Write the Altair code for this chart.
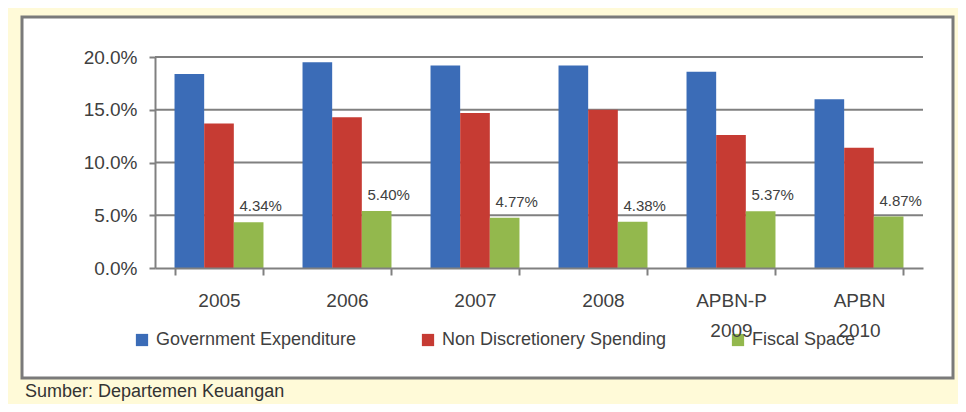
import altair as alt
import pandas as pd

categories = ["2005", "2006", "2007", "2008", "APBN-P 2009", "APBN 2010"]
series = ["Government Expenditure", "Non Discretionery Spending", "Fiscal Space"]
gov_exp = [18.4, 19.5, 19.2, 19.2, 18.6, 16.0]
non_disc = [13.7, 14.3, 14.7, 15.0, 12.6, 11.4]
fiscal = [4.34, 5.40, 4.77, 4.38, 5.37, 4.87]
y_ticks = [0, 5, 10, 15, 20]
grid_vals = [5, 10, 15, 20]
colors = ["#3B6CB7", "#C63B33", "#93B84D"]
source_note = "Sumber: Departemen Keuangan"

rows = []
for s, vals in zip(series, [gov_exp, non_disc, fiscal]):
    for c, v in zip(categories, vals):
        rows.append({"cat": c, "series": s, "val": v})
df = pd.DataFrame(rows)

W, H = 768, 211
FONT = "Liberation Sans"

xenc = alt.X(
    "cat:N",
    sort=categories,
    scale=alt.Scale(paddingInner=0.305, paddingOuter=0.1525),
    axis=alt.Axis(
        title=None, labelAngle=0, tickBand="extent", tickSize=7, tickWidth=2,
        tickColor="#808080", domainColor="#808080", domainWidth=2,
        labelFontSize=19, labelFont=FONT, labelColor="#404040", labelPadding=16,
        labelLineHeight=30, labelBaseline="top",
        labelExpr="split(datum.label, ' ')", zindex=1,
    ),
)
yscale = alt.Scale(domain=[0, 20], nice=False)
yaxis = alt.Axis(
    title=None, values=y_ticks, grid=False,
    labelExpr="format(datum.value, '.1f') + '%'",
    domainColor="#808080", domainWidth=2, tickColor="#808080", tickWidth=2,
    tickSize=6, labelPadding=12, labelFontSize=19, labelFont=FONT,
    labelColor="#404040", zindex=1,
)

panel = alt.Chart(pd.DataFrame({"a": [0]})).mark_rect(
    fill="white", stroke="#7a7a7a", strokeWidth=3
).encode(
    x=alt.value(-133), x2=alt.value(798), y=alt.value(-40), y2=alt.value(321)
)

grid = alt.Chart(pd.DataFrame({"val": grid_vals})).mark_rule(
    color="#808080", strokeWidth=2
).encode(y=alt.Y("val:Q", scale=yscale, axis=yaxis))

bars = alt.Chart(df).mark_bar().encode(
    x=xenc,
    xOffset=alt.XOffset("series:N", sort=series, scale=alt.Scale(paddingInner=0, paddingOuter=0)),
    y=alt.Y("val:Q", scale=yscale, axis=yaxis),
    color=alt.Color(
        "series:N",
        scale=alt.Scale(domain=series, range=colors),
        legend=alt.Legend(
            title=None, orient="none", direction="horizontal",
            legendX=-22, legendY=274, symbolType="square", symbolSize=150,
            symbolStrokeWidth=0, labelFontSize=18, labelFont=FONT,
            labelColor="#404040", columnPadding=62, labelOffset=5,
            labelLimit=400,
        ),
    ),
)

labels = alt.Chart(df).transform_filter(
    alt.datum.series == "Fiscal Space"
).transform_calculate(
    lbl="format(datum.val, '.2f') + '%'"
).mark_text(
    fontSize=15, font=FONT, color="#404040", dx=12, dy=-11, baseline="alphabetic"
).encode(
    x=alt.X("cat:N", sort=categories),
    xOffset=alt.XOffset("series:N", sort=series),
    y=alt.Y("val:Q", scale=yscale),
    text="lbl:N",
)

note = alt.Chart(pd.DataFrame({"t": [source_note]})).mark_text(
    align="left", baseline="alphabetic", fontSize=18, font=FONT, color="#333333"
).encode(x=alt.value(-130), y=alt.value(340), text="t:N")

chart = alt.layer(panel, grid, bars, labels, note).properties(
    width=W, height=H,
    autosize=alt.AutoSizeParams(type="none"),
    padding={"left": 147, "top": 49, "right": 35, "bottom": 136},
).configure(background="#FFFAD8").configure_view(stroke=None)

chart.save("out.html", embed_options={"renderer": "svg", "actions": False})
